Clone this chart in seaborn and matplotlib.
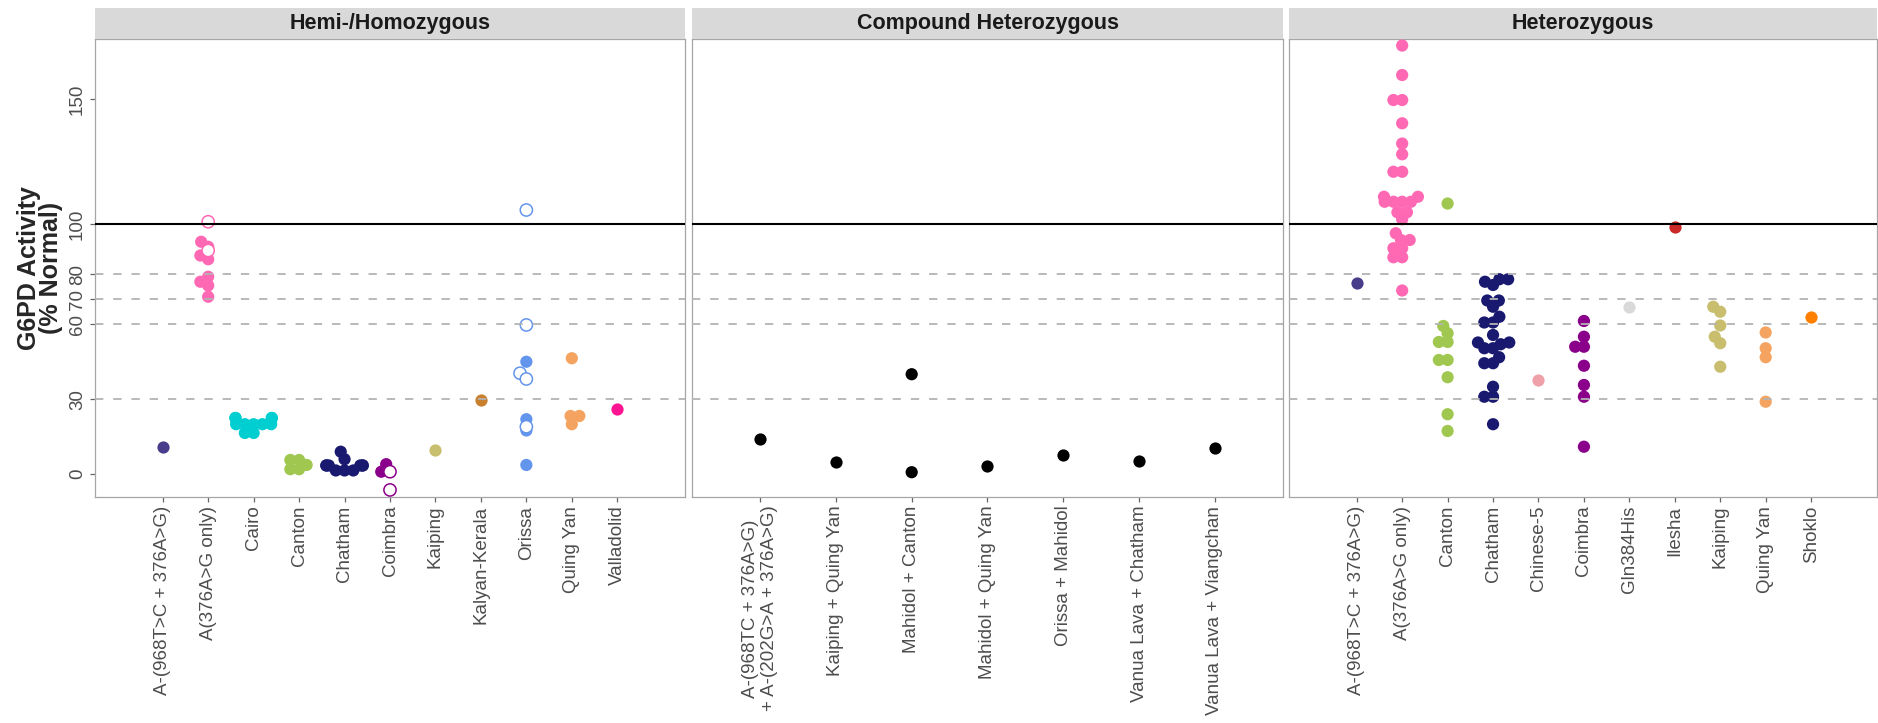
import numpy as np
import pandas as pd
import matplotlib
matplotlib.use("Agg")
import matplotlib.pyplot as plt
import seaborn as sns

sns.set_style("white")
plt.rcParams["font.family"] = ["Liberation Sans", "DejaVu Sans"]

# --- data ---------------------------------------------------------------
hemi_order = ["A-(968T>C + 376A>G)", "A(376A>G only)", "Cairo", "Canton", "Chatham",
              "Coimbra", "Kaiping", "Kalyan-Kerala", "Orissa", "Quing Yan", "Valladolid"]
hemi_colors = ["#483D8B", "#FF69B4", "#00CED1", "#A0C850", "#191970",
               "#8B008B", "#C9BE6E", "#C8802F", "#6495ED", "#F4A460", "#FF1493"]
hemi_filled = [
    [10.8],
    [93, 91, 87.5, 86, 79, 77, 75.5, 71],
    [22.5, 22.5, 22.5, 22.5, 20, 20, 20, 20, 20, 16.5, 16.5],
    [5.7, 5.7, 3.7, 2, 2],
    [9, 6, 3.5, 3.5, 3.5, 3.5, 3.5, 3.5, 1.5, 1.5, 1.5],
    [4, 1, 1],
    [9.7],
    [29.5],
    [45, 22, 17.5, 3.7],
    [46.4, 23.3, 23.3, 20],
    [26.1],
]
hemi_open = [[], [101, 89.5], [], [], [], [1, -6.3], [], [],
             [105.7, 59.7, 40.4, 38.1, 19], [], []]

comp_order = ["A-(968TC + 376A>G)\n+ A-(202G>A + 376A>G)", "Kaiping + Quing Yan",
              "Mahidol + Canton", "Mahidol + Quing Yan", "Orissa + Mahidol",
              "Vanua Lava + Chatham", "Vanua Lava + Viangchan"]
comp_colors = ["black"] * 7
comp_filled = [[14.2], [4.7], [40, 0.8], [3.3], [7.7], [5.3], [10.3]]
comp_open = [[], [], [], [], [], [], []]

het_order = ["A-(968T>C + 376A>G)", "A(376A>G only)", "Canton", "Chatham", "Chinese-5",
             "Coimbra", "Gln384His", "Ilesha", "Kaiping", "Quing Yan", "Shoklo"]
het_colors = ["#483D8B", "#FF69B4", "#A0C850", "#191970", "#EFA1AA",
              "#8B008B", "#D9D9D9", "#CD2626", "#C9BE6E", "#F4A460", "#FF7F00"]
het_filled = [
    [76.4],
    [171.5, 159.7, 149.7, 149.7, 140.4, 132.3, 128, 121, 121, 111, 111, 109, 109,
     109, 109, 104.8, 104.8, 102, 96.4, 93.7, 93.7, 90.4, 90.4, 86.8, 86.8, 73.5],
    [108.3, 59.3, 56.4, 52.9, 52.9, 45.7, 45.7, 38.8, 24, 17.3],
    [78, 78, 77, 75.7, 69.5, 69.5, 67, 63, 60.7, 60.7, 55.7, 52.7, 52.7, 52, 50.4,
     50.4, 46.8, 44.4, 44.4, 35, 31, 31, 20],
    [37.5],
    [61.3, 55, 51, 51, 43.4, 35.7, 31, 11],
    [66.7],
    [99],
    [67, 65, 59.5, 55, 52.4, 43],
    [56.7, 50.4, 46.8, 29],
    [63],
]
het_open = [[] for _ in het_order]

normal_line = 100
cutoff_lines = [30, 60, 70, 80]
y_ticks = [0, 30, 60, 70, 80, 100, 150]

SWARM_SIZE = 6.0   # spacing used to lay out the swarm (pt)
DOT_SIZE = 8.8     # drawn marker diameter (pt) -> dots overlap a little, like the original


def long_table(order, groups):
    rows = [(name, v) for name, vals in zip(order, groups) for v in vals]
    return pd.DataFrame(rows, columns=["variant", "activity"])


W, H = 1878, 723
fig = plt.figure(figsize=(W / 100, H / 100), dpi=100)


def px_axes(x0, y0, x1, y1):
    return fig.add_axes([x0 / W, 1 - y1 / H, (x1 - x0) / W, (y1 - y0) / H])


panels = [
    ("Hemi-/Homozygous", hemi_order, hemi_colors, hemi_filled, hemi_open, 95, 685, (-1.49, 11.49)),
    ("Compound Heterozygous", comp_order, comp_colors, comp_filled, comp_open, 692.3, 1283, (-0.895, 6.9)),
    ("Heterozygous", het_order, het_colors, het_filled, het_open, 1289.3, 1877, (-1.484, 11.45)),
]

data_axes = []
hollow_colls = []
for i, (title, order, colors, filled, hollow, x0, x1, xlim) in enumerate(panels):
    ax = px_axes(x0, 39.3, x1, 496.7)
    strip = px_axes(x0, 8.3, x1, 39.3)
    data_axes.append(ax)
    pal = dict(zip(order, colors))

    sns.swarmplot(data=long_table(order, filled), x="variant", y="activity",
                  hue="variant", order=order, hue_order=order, palette=pal,
                  size=SWARM_SIZE, linewidth=0, legend=False, ax=ax, zorder=3)
    df_open = long_table(order, hollow)
    if len(df_open):
        n0 = len(ax.collections)
        sns.swarmplot(data=df_open, x="variant", y="activity",
                      hue="variant", order=order, hue_order=order, palette=pal,
                      size=SWARM_SIZE, linewidth=0, legend=False, ax=ax, zorder=3.5)
        hollow_colls += ax.collections[n0:]

    ax.axhline(normal_line, color="black", lw=1.5, zorder=4)
    for y in cutoff_lines:
        ax.axhline(y, color="#B3B3B3", lw=1.3, dashes=(4.6, 5.5), zorder=4)

    ax.set_xlim(*xlim)
    ax.set_ylim(-9, 174)
    ax.set_xlabel("")
    ax.set_ylabel("")
    ax.set_xticks(range(len(order)))
    ax.set_xticklabels(order, rotation=90, fontsize=13.5, color="#4D4D4D",
                       ha="center", va="top", multialignment="center")
    ax.tick_params(axis="x", bottom=True, length=3.5, width=0.9, color="#666666", pad=3)
    if i == 0:
        ax.set_yticks(y_ticks)
        ax.set_yticklabels([str(t) for t in y_ticks], rotation=90, va="center",
                           fontsize=13.5, color="#4D4D4D")
        ax.tick_params(axis="y", left=True, length=3.5, width=0.9, color="#666666", pad=3)
    else:
        ax.set_yticks([])
    for sp in ax.spines.values():
        sp.set_color("#A6A6A6")
        sp.set_linewidth(0.9)

    strip.set_facecolor("#D9D9D9")
    strip.set_xticks([])
    strip.set_yticks([])
    for sp in strip.spines.values():
        sp.set_visible(False)
    strip.text(0.5, 0.5, title, ha="center", va="center", fontsize=15.5,
               fontweight="bold", color="#1A1A1A", transform=strip.transAxes)

fig.text(40 / W, 1 - 268 / H, "G6PD Activity\n(% Normal)", rotation=90,
         ha="center", va="center", fontsize=18, fontweight="bold",
         multialignment="center", linespacing=0.9)

# let seaborn lay out the swarms, then freeze them and draw bigger dots
fig.canvas.draw()
for ax in data_axes:
    for coll in ax.collections:
        if "draw" in vars(coll):
            del coll.draw
        coll.set_sizes([DOT_SIZE ** 2])
for coll in hollow_colls:
    fc = coll.get_facecolors()
    if len(fc):
        coll.set_edgecolors(fc)
        coll.set_facecolors("white")
        coll.set_linewidth(1.1)

fig.savefig("out.png", dpi=100)
